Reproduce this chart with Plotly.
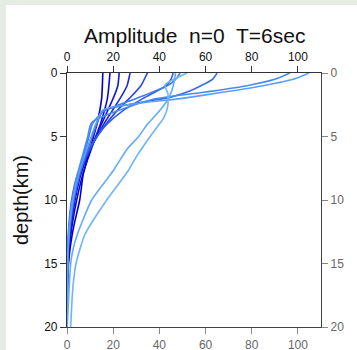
import plotly.graph_objects as go

# ---------------- data ----------------
title_text = "Amplitude  n=0  T=6sec"
y_title = "depth(km)"
x_ticks = [0, 20, 40, 60, 80, 100]
y_ticks = [0, 5, 10, 15, 20]

# dark -> light
colors = ["#0000c8", "#0a0ad2", "#1414dc", "#1e28e0", "#2846e4", "#2f5fe6",
          "#3a6ee8", "#3f7cec", "#4a8af0", "#5aa0f8", "#64aaff", "#6cb4ff"]

depth_d1 = [0, 2, 4, 5, 6, 8, 10, 12, 13, 14, 16, 20]
amp_d1 = [15.5, 15.0, 13.0, 11.5, 10.0, 7.0, 5.5, 3.0, 2.0, 1.2, 0.3, 0]
depth_d2 = [0, 2, 4, 5, 6, 8, 10, 12, 14, 16, 20]
amp_d2 = [18.6, 17.5, 14.5, 12.5, 10.5, 6.8, 4.2, 2.2, 0.9, 0.2, 0]
depth_d3 = [0, 1, 2, 3, 4, 5, 6, 8, 10, 12, 14, 16, 20]
amp_d3 = [22.6, 22, 20, 17.5, 15, 12.5, 10, 6, 3.5, 1.8, 0.7, 0.2, 0]
depth_d4 = [0, 1, 2, 3, 4, 5, 6, 8, 10, 12, 14, 20]
amp_d4 = [27.3, 26, 23, 19.5, 16, 13, 10, 5.5, 3, 1.4, 0.5, 0]
depth_d5 = [0, 1, 2, 3, 4, 5, 6, 8, 10, 12, 14, 20]
amp_d5 = [34.8, 32, 27, 21.5, 17, 13, 10, 5, 2.5, 1.1, 0.4, 0]
depth_d6 = [0, 0.5, 1, 2, 3, 4, 5, 6, 8, 10, 12, 14, 20]
amp_d6 = [46, 45, 43, 33, 24, 17.5, 13, 9.5, 4.5, 2, 0.8, 0.3, 0]

depth_k1 = [0, 0.5, 1, 1.5, 1.9, 3.0, 4, 5, 6, 8, 10, 12, 14, 20]
amp_k1 = [65, 63, 58, 52, 45, 15.6, 13, 11, 9, 5.5, 3, 1.4, 0.5, 0]
depth_k2 = [0, 0.5, 1, 1.5, 2.1, 3.9, 5, 6, 8, 10, 12, 14, 20]
amp_k2 = [96.5, 90, 78, 60, 36.6, 10.7, 9, 7.5, 4.5, 2.2, 1, 0.3, 0]
depth_k3 = [0, 0.5, 1, 1.5, 2.0, 2.9, 4, 5, 6, 8, 10, 12, 14, 20]
amp_k3 = [104.8, 98, 85, 68, 50, 15.6, 12.5, 10.5, 8.5, 5, 2.5, 1.1, 0.4, 0]
depth_k4 = [0, 0.5, 0.95, 2.0, 3.0, 4.0, 5, 6, 8, 10, 12, 14, 20]
amp_k4 = [49, 47, 44, 30, 16, 11, 9.5, 8, 5, 2.6, 1.2, 0.4, 0]

depth_l1 = [0, 1, 2, 3, 4, 5, 6, 7.7, 10, 12.7, 13.9, 15, 20]
amp_l1 = [47, 46, 44, 40, 35, 31, 26, 20, 10.7, 4.5, 2.6, 1.6, 0.1]
depth_l2 = [0, 0.95, 1.6, 2.65, 3.5, 5, 6.6, 7.7, 10, 12.7, 15, 17, 20]
amp_l2 = [52, 42.4, 43.7, 43.6, 42, 36, 30, 26.5, 17.2, 7.8, 3.9, 2.5, 1.6]

curves = [
    (depth_d1, amp_d1), (depth_d2, amp_d2), (depth_d3, amp_d3),
    (depth_d4, amp_d4), (depth_d5, amp_d5), (depth_d6, amp_d6),
    (depth_k1, amp_k1), (depth_k4, amp_k4), (depth_k2, amp_k2),
    (depth_k3, amp_k3), (depth_l1, amp_l1), (depth_l2, amp_l2),
]

fig = go.Figure()
for (d, a), c in zip(curves, colors):
    fig.add_trace(go.Scatter(x=a, y=d, mode="lines",
                             line=dict(color=c, width=1.6, shape="spline", smoothing=0.6),
                             showlegend=False, hoverinfo="skip"))
# dummy trace on secondary axes so they render
fig.add_trace(go.Scatter(x=[None], y=[None], xaxis="x2", yaxis="y2", showlegend=False))

W, H = 357, 350
L, R, T, B = 67, 36, 73, 23
pw, ph = W - L - R, H - T - B

axis_common = dict(range=[0, 110], ticks="outside", ticklen=6, tickwidth=1,
                   showgrid=False, zeroline=False, showline=True, linewidth=1.2,
                   tickvals=x_ticks, fixedrange=True, automargin=False)
yaxis_common = dict(range=[20, 0], ticks="outside", ticklen=6, tickwidth=1,
                    showgrid=False, zeroline=False, showline=True, linewidth=1.2,
                    tickvals=y_ticks, fixedrange=True, automargin=False)

fig.update_layout(
    width=W, height=H, autosize=False,
    margin=dict(l=L, r=R, t=T, b=B, pad=0, autoexpand=False),
    paper_bgcolor="#e4ece4",
    plot_bgcolor="white",
    font=dict(family="Liberation Sans, Arial, sans-serif", size=12, color="#111"),
    xaxis=dict(side="top", linecolor="#333", tickcolor="#333",
               tickfont=dict(color="#111", size=12), **axis_common),
    xaxis2=dict(side="bottom", overlaying="x", anchor="y", linecolor="#444", tickcolor="#888",
                tickfont=dict(color="#666", size=12), **axis_common),
    yaxis=dict(side="left", linecolor="#333", tickcolor="#333",
               tickfont=dict(color="#111", size=12),
               title=dict(text=y_title, font=dict(size=20, color="#111"), standoff=10),
               **yaxis_common),
    yaxis2=dict(side="right", overlaying="y", anchor="x", linecolor="#444", tickcolor="#888",
                tickfont=dict(color="#666", size=12), **yaxis_common),
    shapes=[dict(type="rect", xref="paper", yref="paper", layer="below",
                 x0=(6 - L) / pw, x1=(W + 5 - L) / pw,
                 y0=-(B + 5) / ph, y1=1 + (T - 5) / ph,
                 fillcolor="white", line=dict(width=0))],
    annotations=[dict(text=title_text, xref="paper", yref="paper",
                      x=0.5, y=1 + (T - 35) / ph, xanchor="center", yanchor="middle",
                      showarrow=False, font=dict(size=21, color="#111"))],
)

fig.write_html("out.html", config={"displayModeBar": False},
               post_script="document.body.style.margin='0';document.body.style.overflow='hidden';")
